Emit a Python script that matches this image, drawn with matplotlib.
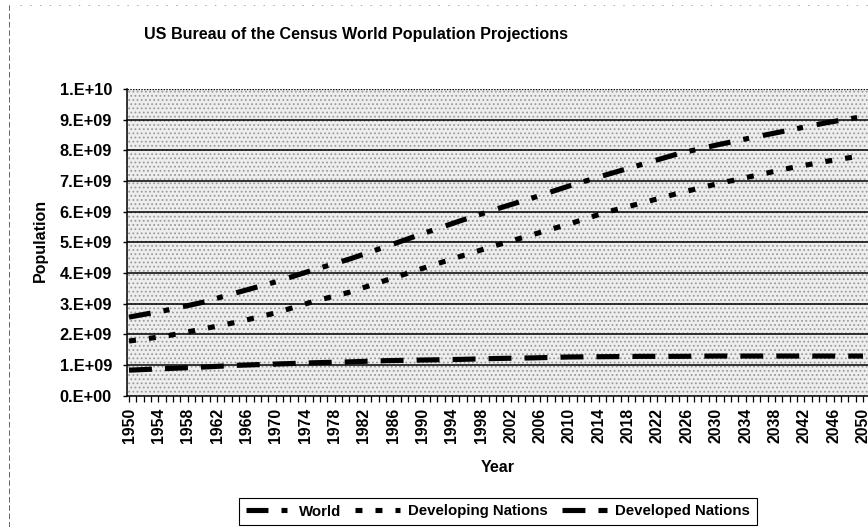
import matplotlib
matplotlib.use("Agg")
import matplotlib.pyplot as plt
from matplotlib.patches import Rectangle
from matplotlib.lines import Line2D

plt.rcParams['font.family'] = ['Liberation Sans', 'DejaVu Sans']
plt.rcParams['font.weight'] = 'bold'
plt.rcParams['lines.scale_dashes'] = False
plt.rcParams['hatch.linewidth'] = 0.8

# ---- data (values in people) ----
years = [1950, 1955, 1960, 1965, 1970, 1975, 1980, 1985, 1990, 1995, 2000,
         2005, 2010, 2015, 2020, 2025, 2030, 2035, 2040, 2045, 2050]
world = [2.56e9, 2.78e9, 3.04e9, 3.38e9, 3.71e9, 4.09e9, 4.45e9, 4.86e9, 5.28e9, 5.69e9, 6.08e9,
         6.45e9, 6.84e9, 7.20e9, 7.55e9, 7.90e9, 8.17e9, 8.42e9, 8.66e9, 8.90e9, 9.10e9]
developing = [1.78e9, 1.94e9, 2.17e9, 2.41e9, 2.70e9, 3.06e9, 3.37e9, 3.76e9, 4.15e9, 4.53e9, 4.90e9,
              5.25e9, 5.60e9, 5.98e9, 6.29e9, 6.61e9, 6.90e9, 7.16e9, 7.42e9, 7.64e9, 7.83e9]
developed = [0.83e9, 0.88e9, 0.93e9, 0.99e9, 1.03e9, 1.07e9, 1.10e9, 1.14e9, 1.16e9, 1.18e9, 1.21e9,
             1.23e9, 1.26e9, 1.27e9, 1.28e9, 1.28e9, 1.29e9, 1.29e9, 1.29e9, 1.29e9, 1.29e9]
series_names = ["World", "Developing Nations", "Developed Nations"]

y_ticks = [0, 1e9, 2e9, 3e9, 4e9, 5e9, 6e9, 7e9, 8e9, 9e9, 1e10]
y_tick_labels = ["0.E+00", "1.E+09", "2.E+09", "3.E+09", "4.E+09", "5.E+09",
                 "6.E+09", "7.E+09", "8.E+09", "9.E+09", "1.E+10"]
x_label_years = list(range(1950, 2051, 4))
x_minor_years = list(range(1950, 2051, 1))

title = "US Bureau of the Census World Population Projections"
x_title = "Year"
y_title = "Population"

# ---- figure ----
W, H = 868, 527
fig = plt.figure(figsize=(W / 100, H / 100), dpi=100)

ax_left, ax_right = 127.2, 870.3
ax_top, ax_bottom = 89.0, 395.6
ax = fig.add_axes([ax_left / W, 1 - ax_bottom / H, (ax_right - ax_left) / W, (ax_bottom - ax_top) / H])
ax.set_xlim(1949.75, 2051.0)
ax.set_ylim(0, 1e10)

# stippled background
ax.set_facecolor('#eeeeee')
bg = Rectangle((0, 0), 1, 1, transform=ax.transAxes, facecolor='none',
               edgecolor='#9a9a9a', hatch='....', lw=0, zorder=0)
ax.add_patch(bg)

# gridlines
for yv in y_ticks[1:-1]:
    ax.axhline(yv, color='black', lw=1.1, zorder=1)
ax.axhline(1e10, color='black', lw=0.9, ls=(0, (1, 1)), zorder=1)

lw = 3.7
ax.plot(years, world, color='black', lw=lw, dashes=(15.8, 9.4, 4.3, 10.1),
        dash_capstyle='butt', zorder=3)
ax.plot(years, developing, color='black', lw=lw, dashes=(5.0, 9.4),
        dash_capstyle='butt', zorder=3)
ax.plot(years, developed, color='black', lw=lw, dashes=(16.5, 9.4),
        dash_capstyle='butt', zorder=3)

# spines
for s in ['top', 'right']:
    ax.spines[s].set_visible(False)
ax.spines['left'].set_linewidth(1.1)
ax.spines['bottom'].set_linewidth(1.1)

ax.set_yticks(y_ticks)
ax.set_yticklabels(y_tick_labels, fontsize=11.8, fontweight='bold')
ax.tick_params(axis='y', direction='out', length=3, width=1, pad=8)

ax.set_xticks(x_label_years)
ax.set_xticklabels([str(y) for y in x_label_years], rotation=90, fontsize=11.3,
                   fontweight='bold')
ax.set_xticks(x_minor_years, minor=True)
ax.tick_params(axis='x', which='both', direction='out', length=4, width=0.9, pad=5)

fig.text(498 / W, 1 - 467 / H, x_title, ha='center', va='center', fontsize=11.5, fontweight='bold')
fig.text(40 / W, 1 - 240 / H, y_title, ha='center', va='center', rotation=90,
         fontsize=11.5, fontweight='bold')

fig.text(356 / W, 1 - 35 / H, title, ha='center', va='center', fontsize=11.6, fontweight='bold')

# chart area border (dotted)
fig.add_artist(Line2D([9 / W, 9 / W], [0, 1 - 3 / H], transform=fig.transFigure,
                      color='#666666', lw=0.7, ls=(0, (4, 2))))
fig.add_artist(Line2D([20 / W, 1], [1 - 5 / H, 1 - 5 / H], transform=fig.transFigure,
                      color='#999999', lw=0.6, ls=(0, (1, 6))))

# legend
handles = [
    Line2D([], [], color='black', lw=lw, dashes=(15.8, 9.4, 4.3, 10.1), dash_capstyle='butt'),
    Line2D([], [], color='black', lw=lw, dashes=(5.0, 9.4), dash_capstyle='butt'),
    Line2D([], [], color='black', lw=lw, dashes=(16.5, 9.4), dash_capstyle='butt'),
]
leg = fig.legend(handles, series_names, loc='center', bbox_to_anchor=(498 / W, 1 - 511.5 / H),
                 ncol=3, frameon=True, fancybox=False, edgecolor='black', framealpha=1,
                 fontsize=10.8, handlelength=3.0, handletextpad=0.55, columnspacing=0.9,
                 borderpad=0.45, borderaxespad=0)
leg.get_frame().set_linewidth(0.8)
for t in leg.get_texts():
    t.set_fontweight('bold')

fig.savefig('out.png', dpi=100)
